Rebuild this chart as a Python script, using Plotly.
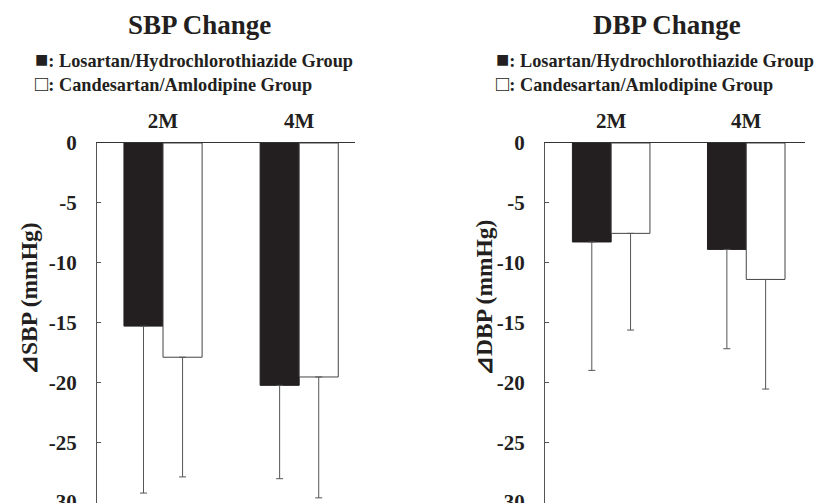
import plotly.graph_objects as go

months = ["2M", "4M"]
sbp_los = [-15.3, -20.25]
sbp_los_sd = [13.95, 7.8]
sbp_can = [-17.9, -19.55]
sbp_can_sd = [10.0, 10.1]
dbp_los = [-8.27, -8.89]
dbp_los_sd = [10.73, 8.3]
dbp_can = [-7.55, -11.4]
dbp_can_sd = [8.08, 9.16]
ytick_vals = [0, -5, -10, -15, -20, -25, -30]
ytick_text = ["0", "-5", "-10", "-15", "-20", "-25", "-30"]

W, H = 824, 503
FONT = "Liberation Serif"
BLACK = "#231f20"
GREY = "#555555"

fig = go.Figure()

def add_pair(xa, ya, v1, e1, v2, e2):
    fig.add_trace(go.Bar(
        x=months, y=v1, xaxis=xa, yaxis=ya,
        marker=dict(color=BLACK, line=dict(color=BLACK, width=1)),
        error_y=dict(type="data", symmetric=False, array=[0, 0], arrayminus=e1,
                     color=GREY, thickness=1, width=3.5),
        showlegend=False))
    fig.add_trace(go.Bar(
        x=months, y=v2, xaxis=xa, yaxis=ya,
        marker=dict(color="white", line=dict(color="#444444", width=1)),
        error_y=dict(type="data", symmetric=False, array=[0, 0], arrayminus=e2,
                     color=GREY, thickness=1, width=3.5),
        showlegend=False))

add_pair("x", "y", sbp_los, sbp_los_sd, sbp_can, sbp_can_sd)
add_pair("x2", "y2", dbp_los, dbp_los_sd, dbp_can, dbp_can_sd)

ytop = 1 - 143 / H
tfont = dict(family=FONT, size=21, color="#231f20", weight="bold")

xcommon = dict(type="category", side="top", showline=True, linecolor="#333333",
               linewidth=1, ticks="", showgrid=False, zeroline=False,
               tickfont=tfont, automargin=False,
               ticklabelstandoff=6, fixedrange=True)
ycommon = dict(range=[-30.08, 0], tickvals=ytick_vals, ticktext=ytick_text,
               ticks="inside", ticklen=4, tickcolor=GREY, showline=True,
               linecolor=GREY, linewidth=1, showgrid=False, zeroline=False,
               tickfont=tfont, automargin=False, ticklabeloverflow="allow",
               ticklabelstandoff=15, domain=[0, ytop])

fig.update_layout(
    width=W, height=H, margin=dict(l=0, r=0, t=0, b=0, autoexpand=False),
    paper_bgcolor="white", plot_bgcolor="white",
    barmode="group", bargap=0.426, bargroupgap=0,
    xaxis=dict(**xcommon, domain=[97 / W, 355 / W], range=[-0.485, 1.41], anchor="y"),
    yaxis=dict(**ycommon, anchor="x"),
    xaxis2=dict(**xcommon, domain=[545 / W, 805 / W], range=[-0.49, 1.435], anchor="y2"),
    yaxis2=dict(**ycommon, anchor="x2"),
)

def ann(text, x, y, size, xanchor="center", angle=0):
    fig.add_annotation(text=text, x=x / W, y=1 - y / H, xref="paper", yref="paper",
                       xanchor=xanchor, yanchor="middle", showarrow=False,
                       textangle=angle, borderpad=0,
                       font=dict(family=FONT, size=size, color="#231f20"))

SQ = '<span style="font-size:22px">%s</span>'
ann("<b>SBP Change</b>", 199, 25, 27)
ann("<b>DBP Change</b>", 667, 25, 27)
for x0 in (34, 495):
    ann("<b>" + SQ % "■" + ": Losartan/Hydrochlorothiazide Group</b>", x0, 60, 18.3, xanchor="left")
    ann("<b>" + SQ % "□" + ": Candesartan/Amlodipine Group</b>", x0, 83, 18.3, xanchor="left")
ann("<b>⊿SBP (mmHg)</b>", 29, 299, 23.5, angle=-90)
ann("<b>⊿DBP (mmHg)</b>", 484, 298, 23.5, angle=-90)

fig.write_html("out.html", post_script="document.body.style.margin='0px';",
               config={"displayModeBar": False})
